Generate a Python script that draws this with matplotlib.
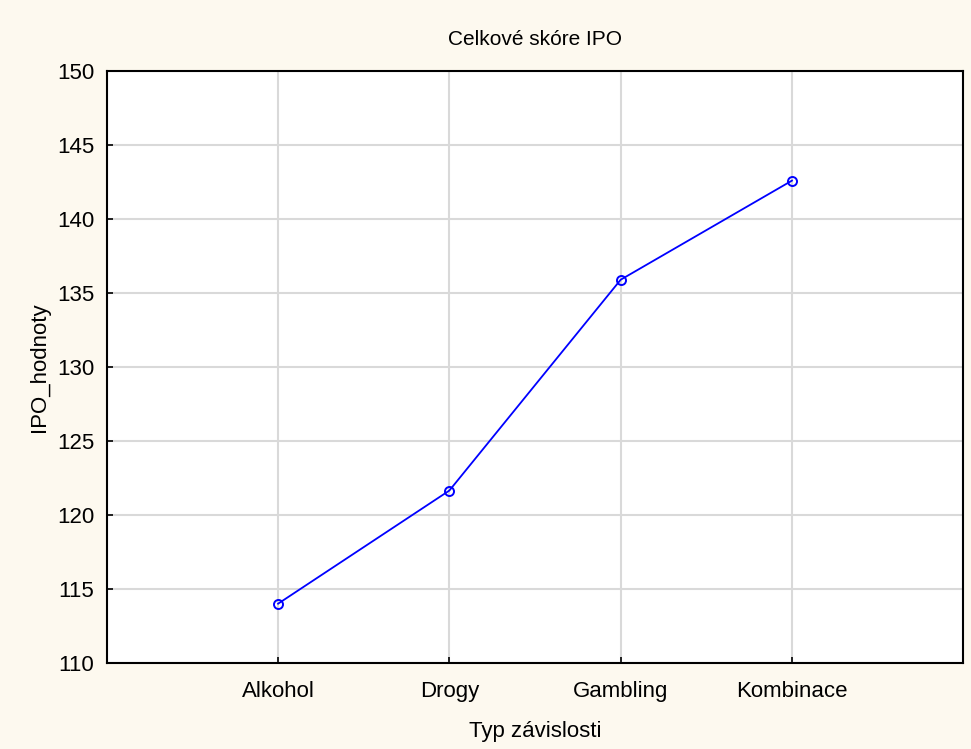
import numpy as np
import matplotlib.pyplot as plt

categories = ["Alkohol", "Drogy", "Gambling", "Kombinace"]
values = [114.0, 121.65, 135.9, 142.6]
y_ticks = [110, 115, 120, 125, 130, 135, 140, 145, 150]

plt.rcParams['font.family'] = ['Liberation Sans', 'DejaVu Sans']

fig = plt.figure(figsize=(9.71, 7.49), dpi=100, facecolor="#FDF9EF")
ax = fig.add_axes([0.110, 0.115, 0.882, 0.790])
ax.set_facecolor("white")

x = np.arange(1, len(categories) + 1)
ax.plot(x, values, color="blue", linewidth=1.3, marker="o", markersize=6.5,
        markerfacecolor="none", markeredgecolor="blue", markeredgewidth=1.4, zorder=3)

ax.set_xlim(0, len(categories) + 1)
ax.set_ylim(110, 150)
ax.set_xticks(x)
ax.set_xticklabels(categories)
ax.set_yticks(y_ticks)
ax.grid(True, color="#D9D9D9", linewidth=1.5)
ax.set_axisbelow(True)
ax.tick_params(direction="in", length=4, width=1.2, labelsize=16)
ax.tick_params(axis="x", pad=13)
ax.tick_params(axis="y", pad=9)
for s in ax.spines.values():
    s.set_linewidth(1.5)

ax.set_title("Celkové skóre IPO", fontsize=15, pad=19)
ax.set_xlabel("Typ závislosti", fontsize=16, labelpad=14)
ax.set_ylabel("IPO_hodnoty", fontsize=16, labelpad=5)

fig.savefig("out.png", dpi=100, facecolor=fig.get_facecolor())
